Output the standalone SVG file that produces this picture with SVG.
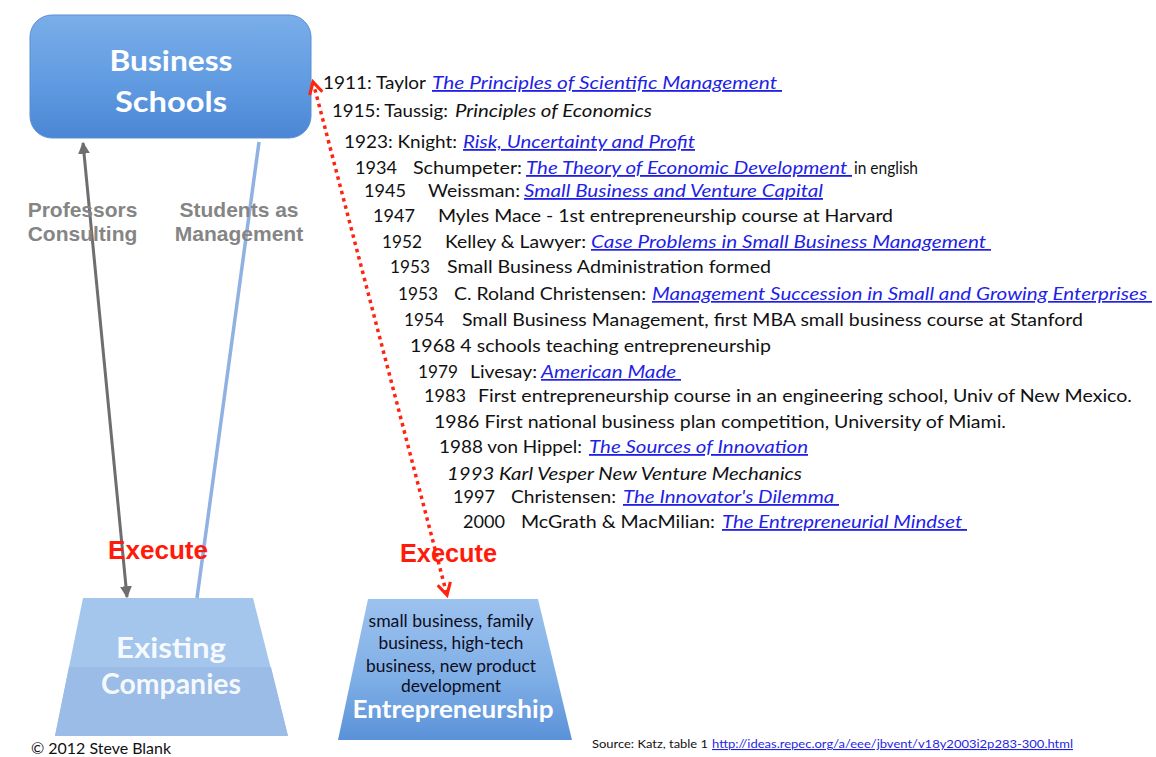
<svg xmlns="http://www.w3.org/2000/svg" width="1156" height="757" viewBox="0 0 1156 757">
<defs>
<linearGradient id="gBS" x1="0" y1="0" x2="0" y2="1">
<stop offset="0" stop-color="#7aaeea"/>
<stop offset="0.6" stop-color="#5e99e0"/>
<stop offset="1" stop-color="#4a86d4"/>
</linearGradient>
<linearGradient id="gEnt" x1="0" y1="0" x2="0" y2="1">
<stop offset="0" stop-color="#9cc2ee"/>
<stop offset="0.55" stop-color="#80afe6"/>
<stop offset="1" stop-color="#5a92d8"/>
</linearGradient>
<marker id="mGray" viewBox="0 0 10 10" refX="9" refY="5" markerWidth="4" markerHeight="4" orient="auto-start-reverse" markerUnits="strokeWidth">
<path d="M0,0 L10,5 L0,10 Z" fill="#6e6e6e"/>
</marker>
<marker id="mRed" viewBox="0 0 12 12" refX="10" refY="6" markerWidth="4.5" markerHeight="4.5" orient="auto-start-reverse" markerUnits="strokeWidth">
<path d="M1,1 L10,6 L1,11" fill="none" stroke="#ff2410" stroke-width="2.4" stroke-linejoin="miter"/>
</marker>
<style>
.tl{font-family:Lato,"Liberation Sans",sans-serif;font-size:18px;fill:#111}
.tls{font-family:Lato,"Liberation Sans",sans-serif;font-size:17px;fill:#111}
.lk{fill:#1f1fe6;font-style:italic;text-decoration:underline}
.it{font-style:italic}
.lbl{font-family:"Liberation Sans",Arial,sans-serif;font-weight:bold;font-size:21px;fill:#858585;text-anchor:middle}
.exe{font-family:"Liberation Sans",Arial,sans-serif;font-weight:bold;font-size:26px;fill:#ff1a0a}
.wt{font-family:Lato,"Liberation Sans",sans-serif;font-weight:bold;fill:#ffffff;text-anchor:middle}
.ent{font-family:Lato,"Liberation Sans",sans-serif;font-size:17px;fill:#0d0d1e;text-anchor:middle}
.ft{font-family:Lato,"Liberation Sans",sans-serif;fill:#111}
</style>
</defs>
<rect width="1156" height="757" fill="#ffffff"/>

<g id="business-schools">
<rect x="30" y="15" width="281" height="123" rx="22" fill="url(#gBS)" stroke="#5b8fd2" stroke-width="1"/>
<text class="wt" x="171" y="71" font-size="29" textLength="123" lengthAdjust="spacingAndGlyphs">Business</text>
<text class="wt" x="171" y="112" font-size="29" textLength="112" lengthAdjust="spacingAndGlyphs">Schools</text>
</g>

<g id="existing-companies">
<polygon points="83,598 253,598 288,736 55,736" fill="#a4c6ec"/>
<polygon points="69,667 271,667 288,736 55,736" fill="#9abce6"/>
<text class="wt" x="171" y="658" font-size="29" fill-opacity="0.92" textLength="110" lengthAdjust="spacingAndGlyphs">Existing</text>
<text class="wt" x="171" y="694" font-size="29" fill-opacity="0.92" textLength="140" lengthAdjust="spacingAndGlyphs">Companies</text>
</g>

<g id="entrepreneurship">
<polygon points="368,599 538,599 572,740 338,740" fill="url(#gEnt)"/>
<text class="ent" x="451" y="627" textLength="165" lengthAdjust="spacingAndGlyphs">small business, family</text>
<text class="ent" x="451" y="649" textLength="145" lengthAdjust="spacingAndGlyphs">business, high-tech</text>
<text class="ent" x="451" y="672" textLength="170" lengthAdjust="spacingAndGlyphs">business, new product</text>
<text class="ent" x="451" y="692" textLength="100" lengthAdjust="spacingAndGlyphs">development</text>
<text class="wt" x="453" y="718" font-size="24" textLength="201" lengthAdjust="spacingAndGlyphs">Entrepreneurship</text>
</g>

<g id="connectors">
<line x1="83" y1="143" x2="127" y2="597" stroke="#6e6e6e" stroke-width="3" marker-start="url(#mGray)" marker-end="url(#mGray)"/>
<line x1="259" y1="142" x2="197" y2="598" stroke="#8fb2e2" stroke-width="3.5"/>
<line x1="313" y1="82" x2="447" y2="595" stroke="#ff2410" stroke-width="3.5" stroke-dasharray="3.5 4" marker-start="url(#mRed)" marker-end="url(#mRed)"/>
</g>

<g id="labels">
<text class="lbl" x="82.5" y="217">Professors</text>
<text class="lbl" x="82.5" y="241">Consulting</text>
<text class="lbl" x="239" y="217">Students as</text>
<text class="lbl" x="239" y="241">Management</text>
<text class="exe" x="108" y="559" textLength="100" lengthAdjust="spacingAndGlyphs">Execute</text>
<text class="exe" x="400" y="562" textLength="97" lengthAdjust="spacingAndGlyphs">Execute</text>
</g>

<g id="timeline">
<text class="tl" x="323" y="89" textLength="103" lengthAdjust="spacingAndGlyphs">1911: Taylor</text>
<text class="tl lk" x="432" y="89" textLength="350" lengthAdjust="spacingAndGlyphs">The Principles of Scientific Management&#160;</text>

<text class="tl" x="332" y="117" textLength="116" lengthAdjust="spacingAndGlyphs">1915: Taussig:</text>
<text class="tl it" x="455" y="117" textLength="197" lengthAdjust="spacingAndGlyphs">Principles of Economics</text>

<text class="tl" x="344" y="148" textLength="113" lengthAdjust="spacingAndGlyphs">1923: Knight:</text>
<text class="tl lk" x="463" y="148" textLength="232" lengthAdjust="spacingAndGlyphs">Risk, Uncertainty and Profit</text>

<text class="tl" x="355" y="174" textLength="42" lengthAdjust="spacingAndGlyphs">1934</text>
<text class="tl" x="413" y="174" textLength="109" lengthAdjust="spacingAndGlyphs">Schumpeter:</text>
<text class="tl lk" x="526" y="174" textLength="326" lengthAdjust="spacingAndGlyphs">The Theory of Economic Development&#160;</text>
<text class="tl" x="854" y="174" font-size="14" textLength="64" lengthAdjust="spacingAndGlyphs">in english</text>

<text class="tl" x="364" y="197" textLength="42" lengthAdjust="spacingAndGlyphs">1945</text>
<text class="tl" x="428" y="197" textLength="92" lengthAdjust="spacingAndGlyphs">Weissman:</text>
<text class="tl lk" x="524" y="197" textLength="299" lengthAdjust="spacingAndGlyphs">Small Business and Venture Capital</text>

<text class="tl" x="373" y="222" textLength="42" lengthAdjust="spacingAndGlyphs">1947</text>
<text class="tl" x="438" y="222" textLength="455" lengthAdjust="spacingAndGlyphs">Myles Mace - 1st entrepreneurship course at Harvard</text>

<text class="tls" x="382" y="248" textLength="40" lengthAdjust="spacingAndGlyphs">1952</text>
<text class="tls" x="445" y="248" textLength="141" lengthAdjust="spacingAndGlyphs">Kelley &amp; Lawyer:</text>
<text class="tls lk" x="591" y="248" textLength="400" lengthAdjust="spacingAndGlyphs">Case Problems in Small Business Management&#160;</text>

<text class="tls" x="390" y="273" textLength="40" lengthAdjust="spacingAndGlyphs">1953</text>
<text class="tls" x="447" y="273" textLength="324" lengthAdjust="spacingAndGlyphs">Small Business Administration formed</text>

<text class="tls" x="398" y="300" textLength="40" lengthAdjust="spacingAndGlyphs">1953</text>
<text class="tls" x="454" y="300" textLength="192" lengthAdjust="spacingAndGlyphs">C. Roland Christensen:</text>
<text class="tls lk" x="652" y="300" textLength="500" lengthAdjust="spacingAndGlyphs">Management Succession in Small and Growing Enterprises&#160;</text>

<text class="tls" x="404" y="326" textLength="40" lengthAdjust="spacingAndGlyphs">1954</text>
<text class="tls" x="462" y="326" textLength="621" lengthAdjust="spacingAndGlyphs">Small Business Management, first MBA small business course at Stanford</text>

<text class="tls" x="410" y="352" textLength="361" lengthAdjust="spacingAndGlyphs">1968 4 schools teaching entrepreneurship</text>

<text class="tls" x="418" y="378" textLength="40" lengthAdjust="spacingAndGlyphs">1979</text>
<text class="tls" x="470" y="378" textLength="67" lengthAdjust="spacingAndGlyphs">Livesay:</text>
<text class="tls lk" x="541" y="378" textLength="140" lengthAdjust="spacingAndGlyphs">American Made&#160;</text>

<text class="tl" x="424" y="402" textLength="42" lengthAdjust="spacingAndGlyphs">1983</text>
<text class="tl" x="478" y="402" textLength="654" lengthAdjust="spacingAndGlyphs">First entrepreneurship course in an engineering school, Univ of New Mexico.</text>

<text class="tl" x="434" y="428" textLength="572" lengthAdjust="spacingAndGlyphs">1986 First national business plan competition, University of Miami.</text>

<text class="tl" x="439" y="453" textLength="143" lengthAdjust="spacingAndGlyphs">1988 von Hippel:</text>
<text class="tl lk" x="589" y="453" textLength="219" lengthAdjust="spacingAndGlyphs">The Sources of Innovation</text>

<text class="tl it" x="447" y="480" textLength="355" lengthAdjust="spacingAndGlyphs">1993 Karl Vesper New Venture Mechanics</text>

<text class="tl" x="453" y="503" textLength="42" lengthAdjust="spacingAndGlyphs">1997</text>
<text class="tl" x="511" y="503" textLength="105" lengthAdjust="spacingAndGlyphs">Christensen:</text>
<text class="tl lk" x="623" y="503" textLength="216" lengthAdjust="spacingAndGlyphs">The Innovator's Dilemma&#160;</text>

<text class="tl" x="463" y="528" textLength="42" lengthAdjust="spacingAndGlyphs">2000</text>
<text class="tl" x="521" y="528" textLength="194" lengthAdjust="spacingAndGlyphs">McGrath &amp; MacMilian:</text>
<text class="tl lk" x="722" y="528" textLength="245" lengthAdjust="spacingAndGlyphs">The Entrepreneurial Mindset&#160;</text>
</g>

<g id="footer">
<text class="ft" x="31" y="754" font-size="15" textLength="140" lengthAdjust="spacingAndGlyphs">© 2012 Steve Blank</text>
<text class="ft" x="592" y="748" font-size="11" textLength="116" lengthAdjust="spacingAndGlyphs">Source: Katz, table 1</text>
<text class="ft" x="712" y="748" font-size="11" text-decoration="underline" textLength="361" lengthAdjust="spacingAndGlyphs" style="fill:#1f1fe6">http://ideas.repec.org/a/eee/jbvent/v18y2003i2p283-300.html</text>
</g>
</svg>
